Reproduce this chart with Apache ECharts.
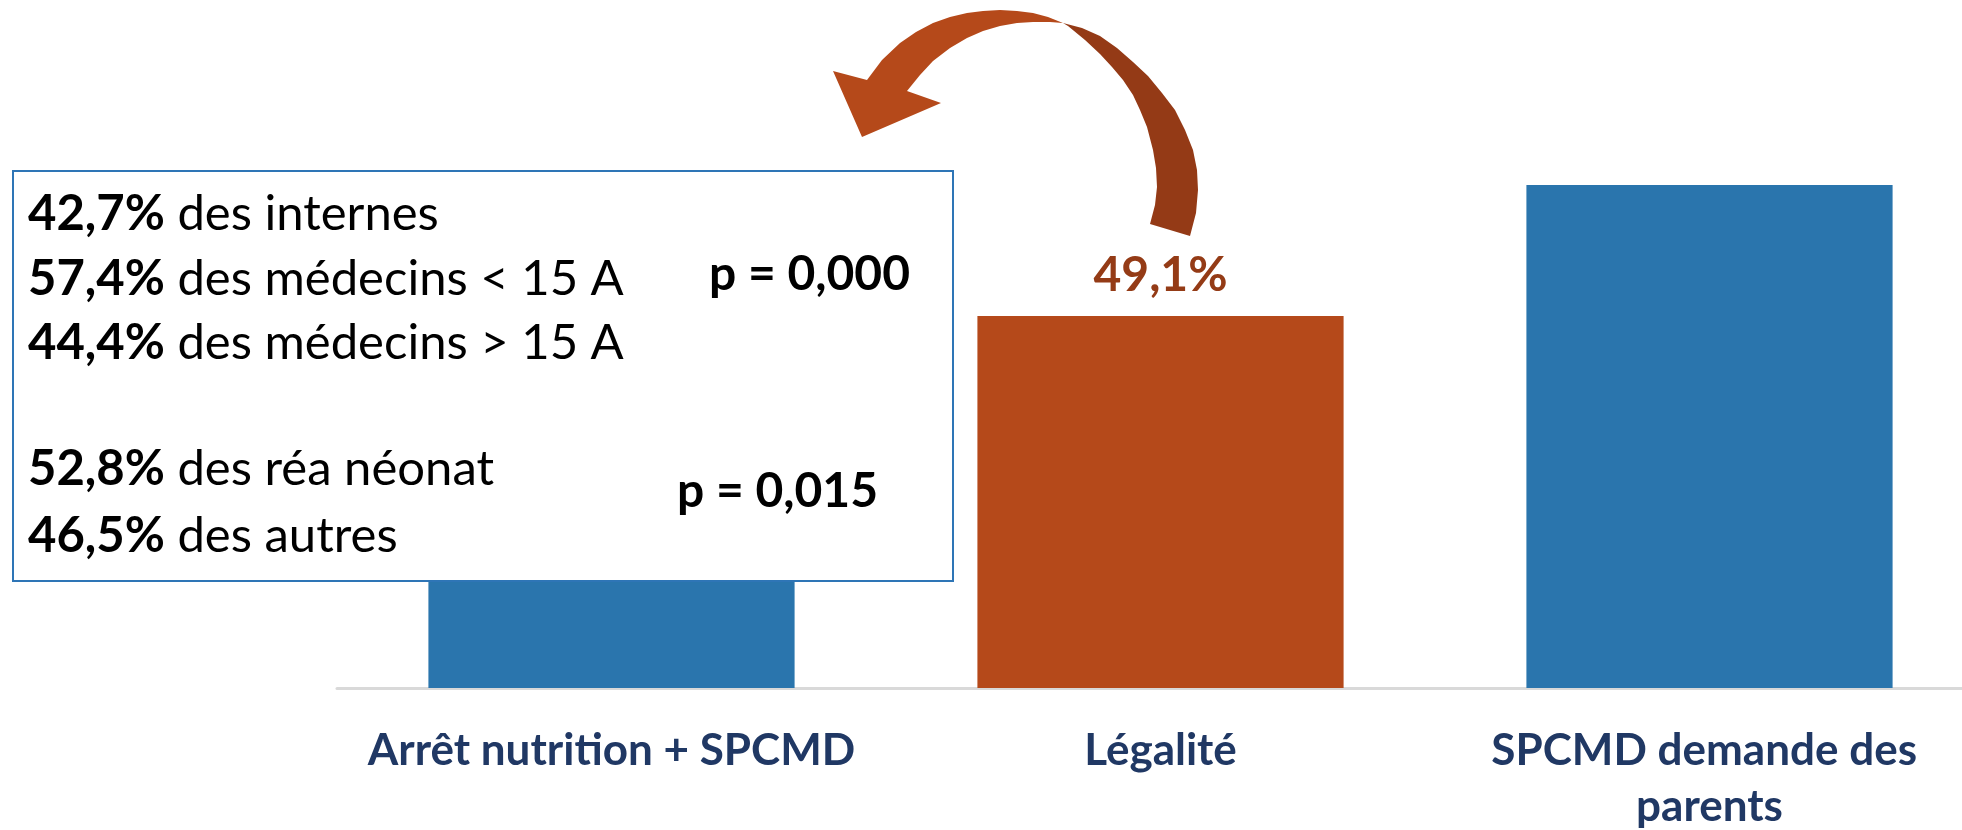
<!DOCTYPE html>
<html>
<head>
<meta charset="utf-8">
<script src="https://cdn.jsdelivr.net/npm/echarts@6/dist/echarts.min.js"></script>
<style>
  html, body { margin: 0; padding: 0; background: #ffffff; }
  #chart { width: 1962px; height: 830px; }
</style>
</head>
<body>
<div id="chart"></div>
<script>
// Categories and shares (%)
const categories = ['Arrêt nutrition + SPCMD', 'Légalité', 'SPCMD demande des parents'];
const values = [41.0, 49.1, 66.4];
const barColors = ['#2a75ad', '#b5491a', '#2a75ad'];
// Only the "Légalité" bar carries a value label
const labelled = [false, true, false];

// Detail lines shown in the callout box: bold share + description
const detailShares = ['42,7%', '57,4%', '44,4%', '52,8%', '46,5%'];
const detailTexts = ['des internes', 'des médecins < 15 A', 'des médecins > 15 A', 'des réa néonat', 'des autres'];
const pValues = ['p = 0,000', 'p = 0,015'];

const FONT = 'Lato, "Open Sans", "Noto Sans", sans-serif';
const BOX_FONT_SIZE = 49;
const P_FONT_SIZE = 48;

const chart = echarts.init(document.getElementById('chart'), null, { renderer: 'canvas' });

const seriesData = values.map((v, i) => ({
  value: v,
  itemStyle: { color: barColors[i] },
  label: {
    show: labelled[i],
    position: 'top',
    distance: 17,
    formatter: p => String(p.value).replace('.', ',') + '%',
    color: '#943b16',
    fontFamily: FONT,
    fontWeight: 'bold',
    fontSize: 48
  }
}));

// Callout box text lines (vertical centres)
const lineY = [214, 279, 343, 469, 536];
const boxTexts = detailShares.map((s, i) => ({
  type: 'text',
  x: 28,
  y: lineY[i],
  z: 20,
  style: {
    text: '{b|' + s + '} ' + detailTexts[i],
    fill: '#000000',
    fontFamily: FONT,
    fontSize: BOX_FONT_SIZE,
    verticalAlign: 'middle',
    rich: {
      b: { fontWeight: 'bold', fontSize: BOX_FONT_SIZE, fontFamily: FONT, fill: '#000000' }
    }
  }
}));

const orangeArrow = [
  [867, 80], [833, 71], [862, 137], [941, 103], [907, 91],
  [920, 75], [933, 61], [950, 48], [967, 38], [983, 31], [1000, 26], [1017, 23], [1033, 22], [1050, 22], [1063, 23],
  [1048, 17], [1033, 13], [1017, 11], [1000, 10], [983, 11], [967, 13], [950, 17], [933, 23], [916, 32], [900, 43], [882, 60]
];
const darkArrow = [
  [1063, 23], [1082, 28], [1100, 36], [1117, 48], [1133, 62], [1148, 76], [1162, 93], [1175, 110], [1185, 130],
  [1193, 150], [1197, 170], [1198, 190], [1196, 213], [1190, 236],
  [1150, 224], [1155, 205], [1157, 187], [1156, 168], [1153, 150], [1147, 127], [1140, 110], [1133, 95],
  [1123, 80], [1112, 67], [1100, 54], [1085, 40], [1068, 26]
];

chart.setOption({
  animation: false,
  backgroundColor: '#ffffff',
  // the plot area runs past the right edge of the canvas
  grid: { left: 337, width: 1647, top: 82, bottom: 142, containLabel: false, outerBoundsMode: 'none' },
  xAxis: {
    type: 'category',
    data: categories,
    axisLine: { show: true, lineStyle: { color: '#d9d9d9', width: 3 } },
    axisTick: { show: false },
    axisLabel: {
      interval: 0,
      margin: 35,
      color: '#203864',
      fontFamily: FONT,
      fontWeight: 'bold',
      fontSize: 44,
      lineHeight: 56,
      width: 530,
      overflow: 'break'
    }
  },
  yAxis: {
    type: 'value',
    min: 0,
    max: 80,
    show: false,
    splitLine: { show: false }
  },
  series: [{
    type: 'bar',
    data: seriesData,
    barCategoryGap: '33.3%',
    z: 2
  }],
  graphic: [
    {
      type: 'polygon',
      z: 15,
      shape: { points: orangeArrow },
      style: { fill: '#b5491a' }
    },
    {
      type: 'polygon',
      z: 15,
      shape: { points: darkArrow },
      style: { fill: '#943a16' }
    },
    {
      type: 'rect',
      left: 12,
      top: 170,
      z: 10,
      shape: { width: 940, height: 410 },
      style: { fill: '#ffffff', stroke: '#2e75b6', lineWidth: 2 }
    },
    ...boxTexts,
    {
      type: 'text', x: 709, y: 275, z: 20,
      style: { text: pValues[0], fill: '#000000', fontFamily: FONT, fontWeight: 'bold', fontSize: P_FONT_SIZE, verticalAlign: 'middle' }
    },
    {
      type: 'text', x: 677, y: 492, z: 20,
      style: { text: pValues[1], fill: '#000000', fontFamily: FONT, fontWeight: 'bold', fontSize: P_FONT_SIZE, verticalAlign: 'middle' }
    }
  ]
});
</script>
</body>
</html>
